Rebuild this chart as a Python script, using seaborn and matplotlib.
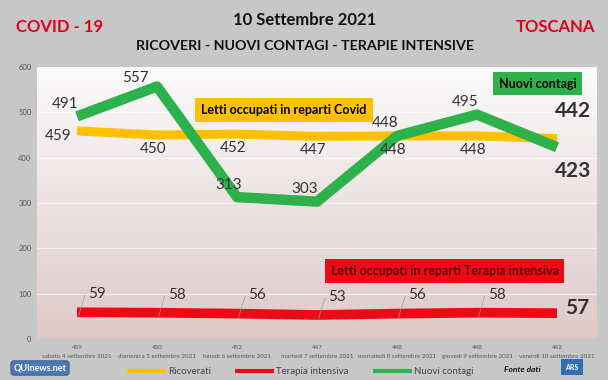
import numpy as np
import pandas as pd
import matplotlib
matplotlib.use("Agg")
import matplotlib.pyplot as plt
import seaborn as sns

# Dati
giorni = ["sabato 4 settembre 2021", "domenica 5 settembre 2021", "lunedì 6 settembre 2021",
          "martedì 7 settembre 2021", "mercoledì 8 settembre 2021", "giovedì 9 settembre 2021",
          "venerdì 10 settembre 2021"]
ricoverati = [459, 450, 452, 447, 448, 448, 442]
terapia_intensiva = [59, 58, 56, 53, 56, 58, 57]
nuovi_contagi = [491, 557, 313, 303, 448, 495, 423]

sns.set_theme(style="white")
plt.rcParams['font.family'] = ['Lato', 'DejaVu Sans']

BG = "#c7c7c7"
YEL = "#ffc000"
RED = "#ee0a14"
GRN = "#2db24b"

fig = plt.figure(figsize=(6.08, 3.80), dpi=100, facecolor=BG)
ax = fig.add_axes([37 / 608, 1 - 339 / 380, 560 / 608, 272 / 380])

x = np.arange(len(giorni))
ax.set_xlim(-0.5, len(giorni) - 0.5)
ax.set_ylim(0, 600)

# sfondo sfumato bianco (alto) -> rosa (basso)
grad = np.linspace(1, 0, 256).reshape(-1, 1)
cmap = matplotlib.colors.LinearSegmentedColormap.from_list("bg", ["#fcfbfb", "#dec9ca"])
ax.imshow(grad, extent=(-0.5, len(giorni) - 0.5, 0, 600), origin="lower", aspect="auto",
          cmap=cmap, zorder=0)

for yy in range(100, 600, 100):
    ax.axhline(yy, color="white", lw=0.8, alpha=0.7, zorder=1)

df = pd.DataFrame({"x": x, "Ricoverati": ricoverati,
                   "Terapia intensiva": terapia_intensiva, "Nuovi contagi": nuovi_contagi})

sns.lineplot(data=df, x="x", y="Ricoverati", color=YEL, lw=6.5, ax=ax, zorder=3,
             label="Ricoverati", solid_capstyle="butt")
sns.lineplot(data=df, x="x", y="Terapia intensiva", color=RED, lw=7, ax=ax, zorder=3,
             label="Terapia intensiva", solid_capstyle="butt")
sns.lineplot(data=df, x="x", y="Nuovi contagi", color=GRN, lw=7.5, ax=ax, zorder=4,
             label="Nuovi contagi", solid_capstyle="butt")

# etichette dati
lab = dict(color="#333333", fontsize=11, zorder=6)
for i, v in enumerate(ricoverati[:-1]):
    if i == 0:
        ax.text(i - 0.24, v - 12, str(v), ha="center", va="center", **lab)
    else:
        ax.text(i - 0.05, v - 30, str(v), ha="center", va="center", **lab)
ax.text(len(x) - 1 + 0.2, ricoverati[-1] + 60, str(ricoverati[-1]), ha="center",
        va="center", fontsize=15, fontweight="bold", color="#333333", zorder=6)

for i, v in enumerate(nuovi_contagi[:-1]):
    dx, dy = -0.15, 28
    if i == 1:
        dx, dy = -0.27, 18
    if i == 2:
        dx, dy = -0.1, 26
    ax.text(i + dx, v + dy, str(v), ha="center", va="center", **lab)
ax.text(len(x) - 1 + 0.2, nuovi_contagi[-1] - 52, str(nuovi_contagi[-1]), ha="center",
        va="center", fontsize=15, fontweight="bold", color="#333333", zorder=6)

for i, v in enumerate(terapia_intensiva[:-1]):
    ax.plot([i + 0.02, i + 0.1], [v - 8, v + 38], color="#999999", lw=0.5, zorder=5)
    ax.text(i + 0.25, v + 40, str(v), ha="center", va="center", **lab)
ax.text(len(x) - 1 + 0.25, terapia_intensiva[-1] + 12, str(terapia_intensiva[-1]), ha="center",
        va="center", fontsize=15, fontweight="bold", color="#333333", zorder=6)

# riquadri descrittivi
ax.text(1.55, 505, "Letti occupati in reparti Covid", ha="left", va="center", fontsize=9,
        fontweight="bold", color="black", zorder=7,
        bbox=dict(boxstyle="square,pad=0.5", fc=YEL, ec="none"))
ax.text(5.76, 563, "Nuovi contagi", ha="center", va="center", fontsize=9,
        fontweight="bold", color="black", zorder=7,
        bbox=dict(boxstyle="square,pad=0.45", fc=GRN, ec="none"))
ax.text(3.17, 150, "Letti occupati in reparti Terapia intensiva", ha="left", va="center",
        fontsize=9, fontweight="bold", color="#5a0000", zorder=7,
        bbox=dict(boxstyle="square,pad=0.45", fc=RED, ec="none"))

# assi
ax.set_xticks(x)
ax.set_xticklabels([f"{r}\n{g}" for r, g in zip(ricoverati, giorni)], fontsize=4.5,
                   color="#555555", linespacing=2.2)
ax.set_yticks(range(0, 700, 100))
ax.set_yticklabels([str(t) for t in range(0, 700, 100)], fontsize=5.5, color="#555555")
ax.tick_params(axis="both", length=0, pad=4)
ax.set_xlabel("")
ax.set_ylabel("")
for s in ax.spines.values():
    s.set_visible(False)

leg = ax.legend(loc="center", bbox_to_anchor=(0.47, -0.12), ncol=3, frameon=False,
                fontsize=7, handlelength=4, columnspacing=2.5, handletextpad=0.2)
for h in leg.get_lines():
    h.set_linewidth(3)
for t in leg.get_texts():
    t.set_color("#444444")

# titoli
fig.text(60 / 608, 1 - 27 / 380, "COVID - 19", ha="center", va="center", fontsize=12,
         fontweight="bold", color="#e0001b")
fig.text(555 / 608, 1 - 27 / 380, "TOSCANA", ha="center", va="center", fontsize=12,
         fontweight="bold", color="#e0001b")
fig.text(305 / 608, 1 - 20 / 380, "10 Settembre 2021", ha="center", va="center", fontsize=12,
         fontweight="bold", color="#111111")
fig.text(305 / 608, 1 - 46 / 380, "RICOVERI - NUOVI CONTAGI - TERAPIE INTENSIVE", ha="center",
         va="center", fontsize=10.3, fontweight="bold", color="#111111")

# loghi / fonte
fig.text(40 / 608, 1 - 368 / 380, "QUInews.net", ha="center", va="center", fontsize=6.5,
         fontweight="bold", color="white",
         bbox=dict(boxstyle="round,pad=0.3", fc="#4a78b8", ec="#2a4a80", lw=0.5))
fig.text(522 / 608, 1 - 369 / 380, "Fonte dati", ha="center", va="center", fontsize=6,
         fontweight="bold", fontstyle="italic", color="#111111")
fig.text(572 / 608, 1 - 367 / 380, "ARS", ha="center", va="center", fontsize=5,
         fontweight="bold", color="white",
         bbox=dict(boxstyle="square,pad=0.6", fc="#2f6db5", ec="none"))

fig.savefig("out.png", dpi=100, facecolor=BG)
